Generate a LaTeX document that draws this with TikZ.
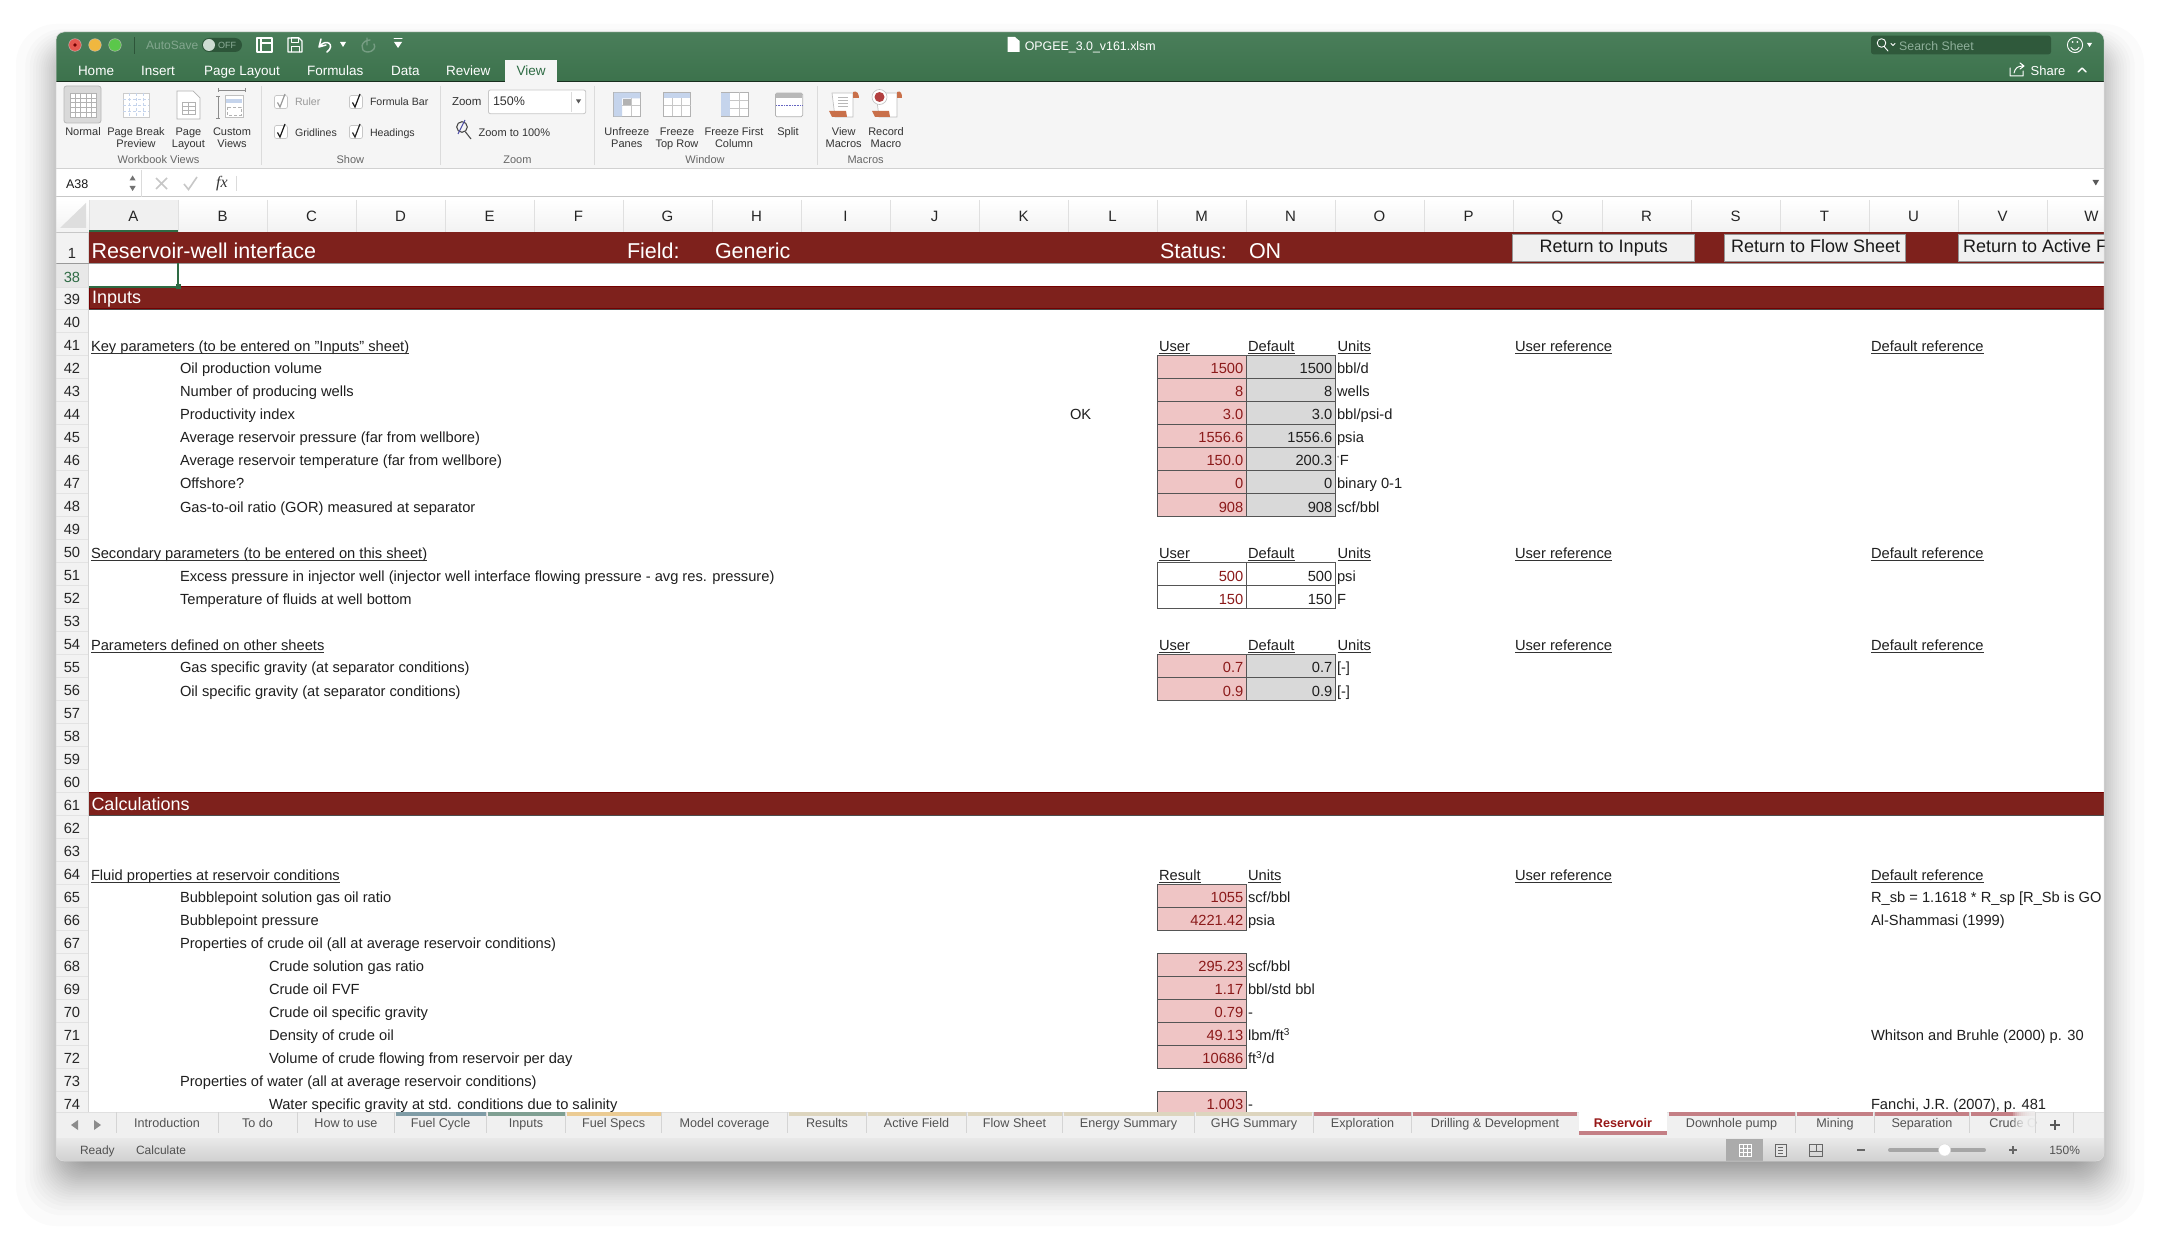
\documentclass[tikz,border=0pt]{standalone}
\usepackage{fontspec}
\setmainfont{Liberation Sans}
\definecolor{maroon}{HTML}{7E211C}
\definecolor{pinkc}{HTML}{EFC5C5}
\definecolor{greyc}{HTML}{D9D9D9}
\definecolor{rednum}{HTML}{8B1A1A}
\definecolor{cellline}{HTML}{555555}
\definecolor{greentop}{HTML}{4A7E5A}
\definecolor{greenbot}{HTML}{3C724C}
\definecolor{ribbon}{HTML}{F5F5F5}
\definecolor{sel}{HTML}{2E6B44}
\definecolor{dimg}{HTML}{8FB09B}
\definecolor{tabblue}{HTML}{7F9CA6}
\definecolor{tabteal}{HTML}{7F9F92}
\definecolor{tabyel}{HTML}{EBCB93}
\definecolor{tabtan}{HTML}{DDD5BE}
\definecolor{tabred}{HTML}{C47F85}
\definecolor{orangeic}{HTML}{C9704A}
\definecolor{blueic}{HTML}{C5D4EC}
\newcommand{\fs}[1]{\fontsize{#1}{#1}\selectfont}
\tikzset{
 txt/.style={inner sep=0pt,outer sep=0pt,text=black!88,font=\fs{14.68}},
 lab/.style={inner sep=0pt,outer sep=0pt,text=black!80,font=\fs{11},anchor=center,text height=8pt,text depth=0pt},
 grp/.style={inner sep=0pt,outer sep=0pt,text=black!60,font=\fs{11},anchor=center,text height=8pt,text depth=0pt},
 tabtxt/.style={inner sep=0pt,outer sep=0pt,text=black!68,font=\fs{12.6},anchor=center,text height=9pt,text depth=0pt},
 menu/.style={inner sep=0pt,outer sep=0pt,text=white,font=\fs{13.5},anchor=west,text height=9.7pt,text depth=0pt},
 hd/.style={inner sep=0pt,outer sep=0pt,text=black!85,font=\fs{14.7},anchor=base},
 rown/.style={inner sep=0pt,outer sep=0pt,text=black!85,font=\fs{14.7},anchor=base},
 banner/.style={inner sep=0pt,outer sep=0pt,text=white,font=\fs{21.5},anchor=base west},
 btn/.style={fill=black!6,draw=black!42,line width=.9pt},
 btntxt/.style={inner sep=0pt,outer sep=0pt,text=black!90,font=\fs{18},anchor=base west},
 sepl/.style={draw=black!14,line width=.9pt},
 chk/.style={draw=black!22,fill=white,rounded corners=2pt,line width=.7pt},
 icon/.style={draw=black!30,fill=white,line width=.7pt},
 wic/.style={draw=white,line width=1.2pt,line cap=round,line join=round},
}
\newcommand{\rowb}[1]{327.3+23*(#1-40)+or(or(#1==48,#1==56),or(#1==51,#1==52))}
\newcommand{\Lt}[3]{\pgfmathsetmacro\yy{\rowb{#2}}\node[txt,anchor=base west] at (#1,\yy) {#3};}
\newcommand{\Ul}[3]{\pgfmathsetmacro\yy{328.3+23*(#2-40)}\node[txt,anchor=base west] (ul) at (#1,\yy) {#3};\draw[black!80,line width=.8pt] ([yshift=-2pt]ul.base west) -- ([yshift=-2pt]ul.base east);}
\newcommand{\Bx}[5]{\pgfmathsetmacro\yt{309+23*(#2-40)}\pgfmathsetmacro\yb{\yt+23}\pgfmathsetmacro\yy{\rowb{#2}}\pgfmathsetmacro\xr{#1+89}\pgfmathsetmacro\xt{#1+86.3}
 \draw[fill=#3,draw=cellline,line width=.9pt] (#1,\yt) rectangle (\xr,\yb);
 \node[txt,anchor=base east,text=#5] at (\xt,\yy) {#4};}
\begin{document}
\begin{tikzpicture}[x=1pt,y=-1pt]
\useasboundingbox (0,0) rectangle (2160,1241);
\fill[white] (0,0) rectangle (2160,1241);
% soft shadow
\foreach \i in {0,...,39}{
 \pgfmathsetmacro\t{(\i/39)^0.55}
 \pgfmathsetmacro\xa{16+70*\t}
 \pgfmathsetmacro\xb{2144-70*\t}
 \pgfmathsetmacro\ya{24+40*\t}
 \pgfmathsetmacro\yb{1226-80*\t}
 \pgfmathsetmacro\rr{40-25*\t}
 \fill[black,fill opacity=.0155,rounded corners=\rr pt] (\xa,\ya) rectangle (\xb,\yb);
}
\begin{scope}
\clip[rounded corners=8pt] (56,32) rectangle (2104,1161);
\fill[white] (56,32) rectangle (2104,1161);
% title bar
\shade[top color=greentop,bottom color=greenbot] (56,32) rectangle (2104,82);
\fill[black!60!greenbot] (56,80.8) rectangle (2104,82);
\fill[ribbon] (505,60) rectangle (557,82);
\foreach \x/\c in {75/E5574F,95/F0B73F,115/5BC74A}{\definecolor{tc}{HTML}{\c}\fill[tc,draw=black!25,line width=.4pt] (\x,45) circle (6.3pt);}
\fill[black!55!red] (75,45) circle (1.8pt);
\draw[greenbot!75!black,line width=.7pt] (134,37) -- (134,54);
\node[inner sep=0pt,anchor=west,text=dimg!85!greenbot,font=\fs{12}] at (146,45.5) {AutoSave};
\fill[black!25!greenbot,rounded corners=7pt] (202,38) rectangle (242,52);
\fill[white!55!dimg] (209,45) circle (6pt);
\node[inner sep=0pt,anchor=west,text=dimg,font=\fs{9}] at (218,45.5) {OFF};
\draw[wic] (257,38) rectangle (272,52) (261,38) -- (261,52) (261,43) -- (272,43);
\draw[wic] (288,38) -- (299,38) -- (302,41) -- (302,52) -- (288,52) -- cycle;
\draw[wic,line width=1pt] (291,38) rectangle (298,43) (291,52) -- (291,47) -- (299,47) -- (299,52);
\draw[wic,line width=1.5pt] (321,39) -- (319,47) -- (326,45) (320,46) .. controls (326,38) and (336,45) .. (327,52);
\fill[white] (340,42) -- (346,42) -- (343,47) -- cycle;
\draw[wic,draw=dimg!70!greenbot,line width=1.4pt] (370,40) .. controls (361,40) and (359,51) .. (367,52) .. controls (374,52) and (376,47) .. (374,44) (367,38) -- (367,45);
\draw[wic,line width=1pt] (394,39) -- (402,39);
\fill[white] (394,42) -- (402,42) -- (398,48) -- cycle;
% title
\fill[white] (1007.6,37) -- (1015,37) -- (1019.6,41) -- (1019.6,52) -- (1007.6,52) -- cycle;
\node[inner sep=0pt,anchor=base west,text=white,font=\fs{12.4}] at (1024.6,50.5) {OPGEE\_3.0\_v161.xlsm};
% search
\fill[black!22!greenbot,rounded corners=2.5pt] (1871,35.7) rectangle (2051,54.3);
\draw[wic,line width=.9pt] (1881.5,43) circle (4.3pt) (1884.5,47) -- (1888,51);
\draw[wic,line width=.8pt] (1891,43.5) -- (1893,45.5) -- (1895,43.5);
\node[inner sep=0pt,anchor=base west,text=dimg,font=\fs{12.3}] at (1899,50.5) {Search Sheet};
\draw[wic,line width=.9pt] (2075,45) circle (7.6pt) (2071,47.5) .. controls (2073,51) and (2077,51) .. (2079,47.5);
\fill[white] (2072.6,42) circle (1pt) (2077.4,42) circle (1pt) (2087,43) -- (2092,43) -- (2089.5,47) -- cycle;
% menu
\foreach \x/\t in {78/Home,141/Insert,204/Page Layout,307/Formulas,391/Data,446/Review}{\node[menu] at (\x,70.5) {\t};}
\node[menu,text=sel] at (516.5,70.5) {View};
\draw[wic,line width=1pt] (2010,68) -- (2010,76) -- (2023,76) -- (2023,71) (2014,73) .. controls (2015,68) and (2018,66) .. (2023,66) (2020,63) -- (2024,66) -- (2020,69);
\node[menu,font=\fs{13}] at (2030.6,70.5) {Share};
\draw[wic,line width=1.4pt] (2078,72) -- (2082,68) -- (2086,72);
% ribbon
\fill[ribbon] (56,82) rectangle (2104,169);
\draw[black!18,line width=1pt] (56,169) -- (2104,169);
\foreach \x in {261.6,440.6,594.6,817}{\draw[sepl] (\x,86) -- (\x,165);}
\draw[fill=black!15,draw=black!28,rounded corners=2.5pt,line width=.8pt] (64,86) rectangle (101,123);
\draw[icon] (70,93) rectangle (96.5,117);
\foreach \x in {75.3,80.6,85.9,91.2}{\draw[black!30,line width=.4pt] (\x,93) -- (\x,117);}
\foreach \y in {97.8,102.6,107.4,112.2}{\draw[black!30,line width=.4pt] (70,\y) -- (96.5,\y);}
\node[lab] at (83,132) {Normal};
% page break
\draw[icon,draw=black!20] (123,93) rectangle (149,117);
\draw[blueic,densely dashed,line width=.5pt] (136,93) -- (136,117) (123,105) -- (149,105) (129,93) -- (129,117) (143,93) -- (143,117) (123,99) -- (149,99) (123,111) -- (149,111);
\node[lab] at (136,132) {Page Break}; \node[lab] at (136,144) {Preview};
% page layout
\draw[icon] (177,91) -- (193,91) -- (200,98) -- (200,119) -- (177,119) -- cycle;
\draw[black!30,line width=.4pt] (182,102) rectangle (195,114) (182,106) -- (195,106) (182,110) -- (195,110) (188.5,102) -- (188.5,114);
\node[lab] at (188.4,132) {Page}; \node[lab] at (188.4,144) {Layout};
% custom
\draw[black!45,line width=.6pt] (218,90) -- (245,90) (218,88) -- (218,92) (245,88) -- (245,92) (218,96) -- (218,118) (216,96) -- (220,96) (216,118) -- (220,118);
\draw[icon,draw=black!25] (225,95) rectangle (243,117);
\fill[blueic] (226,99) rectangle (242,103);
\draw[black!30,line width=.4pt,densely dashed] (227,107) rectangle (241,115);
\node[lab] at (232,132) {Custom}; \node[lab] at (232,144) {Views};
\node[grp] at (158.5,159.3) {Workbook Views};
% show
\foreach \x/\y/\c in {281/102/40,356/102/90,281/132/90,356/132/85}{
 \pgfmathsetmacro\xa{\x-6.5}\pgfmathsetmacro\xb{\x+6.5}\pgfmathsetmacro\ya{\y-6.5}\pgfmathsetmacro\yb{\y+6.5}
 \draw[chk] (\xa,\ya) rectangle (\xb,\yb);
 \pgfmathsetmacro\pa{\x-3.5}\pgfmathsetmacro\pb{\y+0.5}\pgfmathsetmacro\qa{\x-1}\pgfmathsetmacro\qb{\y+5}\pgfmathsetmacro\ra{\x+4}\pgfmathsetmacro\rb{\y-8}
 \draw[black!\c,line width=1.2pt] (\pa,\pb) -- (\qa,\qb) -- (\ra,\rb);
}
\node[lab,anchor=west,text=black!40,font=\fs{10.6}] at (295,102) {Ruler};
\node[lab,anchor=west,font=\fs{10.6}] at (370,102) {Formula Bar};
\node[lab,anchor=west,font=\fs{10.6}] at (295,132.5) {Gridlines};
\node[lab,anchor=west,font=\fs{10.6}] at (370,132.5) {Headings};
\node[grp] at (350.4,159.3) {Show};
% zoom
\node[lab,anchor=west,font=\fs{11.5}] at (452,102) {Zoom};
\draw[fill=white,draw=black!22,rounded corners=2pt,line width=.8pt] (488.4,90) rectangle (585.7,113.7);
\draw[black!14,line width=.7pt] (571.4,92) -- (571.4,112);
\node[lab,anchor=west,font=\fs{12.5}] at (493,102) {150\%};
\fill[black!65] (576,99.5) -- (581,99.5) -- (578.5,103.5) -- cycle;
\draw[black!70,line width=1.1pt] (462,127) circle (5.3pt) (465.5,132) -- (471,139);
\draw[blue!50!black!70,line width=1pt] (458,134) -- (465,120);
\node[lab,anchor=west] at (478.6,132.5) {Zoom to 100\%};
\node[grp] at (517.4,159.3) {Zoom};
% window icons
\draw[icon] (613.4,92.3) rectangle (640.6,116.7);
\fill[blueic] (613.8,92.7) rectangle (640.2,98.5) (613.8,98.5) rectangle (622,116.3);
\fill[black!30] (622.5,99) rectangle (631,105);
\draw[black!22,line width=.4pt] (622,105.5) -- (640,105.5) (631,98.5) -- (631,116.5);
\node[lab] at (626.8,132) {Unfreeze}; \node[lab] at (626.8,144) {Panes};
\draw[icon] (663.4,92.3) rectangle (690.6,116.7);
\fill[blueic] (663.8,92.7) rectangle (690.2,98.5);
\draw[black!22,line width=.4pt] (663.5,105) -- (690.5,105) (672.5,98.5) -- (672.5,116.5) (681.5,98.5) -- (681.5,116.5);
\node[lab] at (677,132) {Freeze}; \node[lab] at (677,144) {Top Row};
\draw[icon] (721,92.3) rectangle (748.2,116.7);
\fill[blueic] (721.4,92.7) rectangle (729.5,116.3);
\draw[black!22,line width=.4pt] (729.5,100.5) -- (748,100.5) (729.5,108.5) -- (748,108.5) (739,92.5) -- (739,116.5);
\node[lab] at (734,132) {Freeze First}; \node[lab] at (734,144) {Column};
\draw[icon,rounded corners=1.5pt] (775.4,93) rectangle (802.7,116.7);
\fill[black!28] (775.8,93.4) rectangle (802.3,98);
\draw[blue!60!black!60,densely dotted,line width=.6pt] (776,105.5) -- (802,105.5);
\node[lab] at (788,132) {Split};
\node[grp] at (705,159.3) {Window};
% macros
\draw[icon,draw=black!25] (832,93) -- (853,93) -- (853,117) -- (835,117) -- cycle;
\fill[orangeic] (829,111) -- (846,111) -- (847,117) -- (832,117) -- cycle (853,92) .. controls (857,90) and (859,94) .. (859,98) -- (853,98) -- cycle;
\foreach \y in {97,100,103,106}{\draw[black!28,line width=.5pt] (838,\y) -- (848,\y);}
\node[lab] at (843.7,132) {View}; \node[lab] at (843.7,144) {Macros};
\draw[icon,draw=black!25] (876,93) -- (897,93) -- (897,117) -- (879,117) -- cycle;
\fill[orangeic] (872,111) -- (889,111) -- (890,117) -- (875,117) -- cycle (897,92) .. controls (901,90) and (902,94) .. (902,98) -- (897,98) -- cycle;
\draw[fill=white,draw=black!25,line width=.6pt] (879.5,97) circle (7.5pt);
\fill[red!60!black!75] (879.5,97) circle (5pt);
\node[lab] at (886,132) {Record}; \node[lab] at (886,144) {Macro};
\node[grp] at (865.6,159.3) {Macros};
% formula bar
\fill[white] (56,170) rectangle (2104,197);
\draw[black!22,line width=.9pt] (56,196.8) -- (2104,196.8) (56,199) -- (2104,199);
\draw[black!14,line width=.8pt] (141.5,170) -- (141.5,197) (236.6,176) -- (236.6,191);
\node[lab,anchor=west,font=\fs{12.5},text=black!90,text height=9pt] at (66,184) {A38};
\fill[black!55] (129.5,180.5) -- (135.7,180.5) -- (132.6,175.5) -- cycle (129.5,186) -- (135.7,186) -- (132.6,191) -- cycle;
\draw[black!22,line width=1.6pt] (156,178) -- (167,189) (167,178) -- (156,189);
\draw[black!22,line width=1.6pt] (184,184) -- (188.5,189.5) -- (197,177);
\node[inner sep=0pt,text=black!80,font=\fontspec{Liberation Serif}\itshape\fs{16}] at (222,184) {fx};
\fill[black!65] (2092.5,180) -- (2099,180) -- (2095.8,185.5) -- cycle;
% column header
\shade[top color=white,bottom color=black!5] (56,199.5) rectangle (2104,232);
\fill[black!6] (89,200) rectangle (178,230);
\fill[black!13] (60,228) -- (86,203) -- (86,228) -- cycle;
\foreach \x in {89,178,...,2100}{\draw[black!12,line width=.7pt] (\x,200) -- (\x,232);}
\foreach[count=\i from 0] \c in {A,B,C,D,E,F,G,H,I,J,K,L,M,N,O,P,Q,R,S,T,U,V,W}{
 \pgfmathsetmacro\xx{133.5+89*\i}\node[hd,font=\fs{15}] at (\xx,222) {\c};}
\fill[sel] (89,230) rectangle (178,232);
% row header
\fill[black!5] (56,232) rectangle (89,1112);
\fill[black!9] (56,264) rectangle (89,287);
\draw[black!22,line width=.9pt] (56,232) -- (89,232);
\foreach \n in {40,...,74}{\pgfmathsetmacro\yy{309+23*(\n-40)}\draw[black!11,line width=.6pt] (56,\yy) -- (89,\yy);}
\draw[black!11,line width=.6pt] (56,287) -- (89,287);
\draw[black!16,line width=.8pt] (88.7,232) -- (88.7,1112);
\node[rown] at (72,258.5) {1};
\node[rown,text=sel] at (72,283) {38};
\node[rown] at (72,305) {39};
\foreach \n in {40,...,74}{\pgfmathsetmacro\yy{327.3+23*(\n-40)}\node[rown] at (72,\yy) {\n};}
% banners
\fill[maroon] (89,232) rectangle (2104,263);
\draw[black!40,line width=1.2pt] (56,263.6) -- (2104,263.6);
\draw[fill=maroon,draw=red!45!black,line width=.8pt] (89,286.6) rectangle (2110,308);
\draw[black!70,line width=.7pt] (89,309) -- (2104,309);
\fill[maroon] (89,792.6) rectangle (2104,815);
\draw[red!45!black,line width=.8pt] (89,792.6) -- (2104,792.6);
\draw[black!70,line width=.7pt] (89,815.6) -- (2104,815.6);
\node[banner] at (91.5,259) {Reservoir-well interface};
\node[banner] at (627,259) {Field:};
\node[banner] at (715,259) {Generic};
\node[banner] at (1160,259) {Status:};
\node[banner] at (1249,259) {ON};
\node[banner,font=\fs{18}] at (92,304) {Inputs};
\node[banner,font=\fs{18}] at (91.5,810) {Calculations};
% buttons
\draw[btn] (1512.5,234) rectangle (1694.6,261);
\node[btntxt] at (1539.7,253) {Return to Inputs};
\draw[btn] (1724.5,234) rectangle (1905.6,261);
\node[btntxt] at (1731,253) {Return to Flow Sheet};
\draw[btn] (1958.6,234) rectangle (2120,261);
\node[btntxt] at (1963,253) {Return to Active F};
% selection
\draw[sel,line width=1.6pt] (89,287) -- (178,287) -- (178,263.5);
\fill[sel] (175.5,284.5) rectangle (180.5,289.5);
% inputs text
\Ul{91}{41}{Key parameters (to be entered on "Inputs" sheet)}
\Ul{1159}{41}{User}\Ul{1248}{41}{Default}\Ul{1337.5}{41}{Units}\Ul{1515}{41}{User reference}\Ul{1871}{41}{Default reference}
\Lt{180}{42}{Oil production volume}
\Lt{180}{43}{Number of producing wells}
\Lt{180}{44}{Productivity index}
\Lt{1070}{44}{OK}
\Lt{180}{45}{Average reservoir pressure (far from wellbore)}
\Lt{180}{46}{Average reservoir temperature (far from wellbore)}
\Lt{180}{47}{Offshore?}
\Lt{180}{48}{Gas-to-oil ratio (GOR) measured at separator}
\foreach \r/\u/\d/\n in {42/1500/1500/bbl\slash d,43/8/8/wells,44/3.0/3.0/bbl\slash psi-d,45/1556.6/1556.6/psia,46/150.0/200.3/{\textsuperscript{\fs{6}°}F},47/0/0/binary 0-1,48/908/908/scf\slash bbl}{
 \Bx{1157}{\r}{pinkc}{\u}{rednum}\Bx{1246}{\r}{greyc}{\d}{black!88}\Lt{1337}{\r}{\n}}
\Ul{91}{50}{Secondary parameters (to be entered on this sheet)}
\Ul{1159}{50}{User}\Ul{1248}{50}{Default}\Ul{1337.5}{50}{Units}\Ul{1515}{50}{User reference}\Ul{1871}{50}{Default reference}
\Lt{180}{51}{Excess pressure in injector well (injector well interface flowing pressure - avg res. pressure)}
\Lt{180}{52}{Temperature of fluids at well bottom}
\foreach \r/\u/\n in {51/500/psi,52/150/F}{\Bx{1157}{\r}{white}{\u}{rednum}\Bx{1246}{\r}{white}{\u}{black!88}\Lt{1337}{\r}{\n}}
\Ul{91}{54}{Parameters defined on other sheets}
\Ul{1159}{54}{User}\Ul{1248}{54}{Default}\Ul{1337.5}{54}{Units}\Ul{1515}{54}{User reference}\Ul{1871}{54}{Default reference}
\Lt{180}{55}{Gas specific gravity (at separator conditions)}
\Lt{180}{56}{Oil specific gravity (at separator conditions)}
\foreach \r/\u in {55/0.7,56/0.9}{\Bx{1157}{\r}{pinkc}{\u}{rednum}\Bx{1246}{\r}{greyc}{\u}{black!88}\Lt{1337}{\r}{[-]}}
% calculations
\Ul{91}{64}{Fluid properties at reservoir conditions}
\Ul{1159}{64}{Result}\Ul{1248}{64}{Units}\Ul{1515}{64}{User reference}\Ul{1871}{64}{Default reference}
\Lt{180}{65}{Bubblepoint solution gas oil ratio}
\Lt{180}{66}{Bubblepoint pressure}
\Lt{180}{67}{Properties of crude oil (all at average reservoir conditions)}
\Lt{269}{68}{Crude solution gas ratio}
\Lt{269}{69}{Crude oil FVF}
\Lt{269}{70}{Crude oil specific gravity}
\Lt{269}{71}{Density of crude oil}
\Lt{269}{72}{Volume of crude flowing from reservoir per day}
\Lt{180}{73}{Properties of water (all at average reservoir conditions)}
\Lt{269}{74}{Water specific gravity at std. conditions due to salinity}
\foreach \r/\u/\n in {65/1055/scf\slash bbl,66/4221.42/psia,68/295.23/scf\slash bbl,69/1.17/bbl\slash std bbl,70/0.79/-,71/49.13/{lbm\slash ft\textsuperscript{\fs{10}3}},72/10686/{ft\textsuperscript{\fs{10}3}\slash d},74/1.003/-}{
 \Bx{1157}{\r}{pinkc}{\u}{rednum}\Lt{1248}{\r}{\n}}
\Lt{1871}{65}{R\_sb = 1.1618 * R\_sp [R\_Sb is GO}
\Lt{1871}{66}{Al-Shammasi (1999)}
\Lt{1871}{71}{Whitson and Bruhle (2000) p. 30}
\Lt{1871}{74}{Fanchi, J.R. (2007), p. 481}
% tab bar
\fill[black!6] (56,1112) rectangle (2104,1138);
\draw[black!12,line width=.7pt] (56,1112) -- (2104,1112);
\draw[black!30,line width=.9pt] (56,1138) -- (2104,1138);
\fill[black!45] (78,1120) -- (78,1130) -- (71,1125) -- cycle (94,1120) -- (94,1130) -- (101,1125) -- cycle;
\foreach \x in {116.5,218,297,394.6,486.6,565.6,661.6,787.5,866.5,966.5,1062.5,1194.6,1313.4,1411.6,1795.6,1874.4,1969.5,2035.6,2073.6}{\draw[black!17,line width=.7pt] (\x,1112) -- (\x,1133);}
\foreach \a/\b/\c in {395.6/485.6/tabblue,487.6/564.6/tabteal,566.6/660.6/tabyel,788.5/865.5/tabtan,867.5/965.5/tabtan,967.5/1061.5/tabtan,1063.5/1193.6/tabtan,1195.6/1312.4/tabtan,1314.4/1410.6/tabred,1412.6/1577/tabred,1669/1794.6/tabred,1796.6/1873.4/tabred,1875.4/1968.5/tabred,1970.5/2035/tabred}{\fill[\c] (\a,1112) rectangle (\b,1116);}
\fill[white] (1579,1112) rectangle (1667.4,1131);
\fill[tabred] (1579,1131) rectangle (1667.4,1135);
\foreach \x/\t in {167/Introduction,257.5/To do,346/How to use,440.6/Fuel Cycle,526/Inputs,613.6/Fuel Specs,724.5/Model coverage,827/Results,916.5/Active Field,1014.5/Flow Sheet,1128.5/Energy Summary,1254/GHG Summary,1362.5/Exploration,1495/Drilling \& Development,1731.5/Downhole pump,1835/Mining,1922/Separation}{\node[tabtxt] at (\x,1123) {\t};}
\node[tabtxt,text=rednum!90!red,font=\fs{12.6}\bfseries] at (1623,1123) {Reservoir};
\node[tabtxt,anchor=west] at (1989.4,1123) {Crude O};
% fade out of the last tab
\foreach \k in {1,...,11}{\pgfmathsetmacro\xa{2035-2*\k}\fill[black!6,fill opacity=.25] (\xa,1111) rectangle (2035,1133);}
\draw[black!17,line width=.7pt] (2035.6,1112) -- (2035.6,1133);
\draw[black!65,line width=1.2pt] (2050,1125) -- (2060,1125) (2055,1120) -- (2055,1130);
% status bar
\shade[top color=black!9,bottom color=black!18] (56,1138.6) rectangle (2104,1161);
\node[tabtxt,anchor=west,font=\fs{12}] at (80,1150) {Ready};
\node[tabtxt,anchor=west,font=\fs{12}] at (136,1150) {Calculate};
\fill[black!33] (1726,1139) rectangle (1763,1161);
\draw[white,line width=.8pt] (1739,1144) rectangle (1751,1156) (1743,1144) -- (1743,1156) (1747,1144) -- (1747,1156) (1739,1148) -- (1751,1148) (1739,1152) -- (1751,1152);
\draw[black!60,fill=black!10,line width=.7pt] (1775,1144) rectangle (1786,1156);
\draw[black!60,line width=.6pt] (1778,1147) -- (1783,1147) (1778,1150) -- (1783,1150) (1778,1153) -- (1783,1153);
\draw[black!60,line width=.7pt] (1809.5,1144) rectangle (1822.5,1156) (1809.5,1151) -- (1822.5,1151) (1816,1144) -- (1816,1151);
\draw[black!60,line width=1.6pt] (1857,1150) -- (1865,1150) (2009,1150) -- (2017,1150) (2013,1146) -- (2013,1154);
\draw[black!35,line width=4pt,line cap=round] (1890,1150) -- (1984,1150);
\fill[white,draw=black!15,line width=.4pt] (1944.6,1150) circle (6pt);
\node[tabtxt,font=\fs{12}] at (2064.6,1150) {150\%};
\end{scope}
\draw[black!15,line width=.5pt,rounded corners=8pt] (56,32) rectangle (2104,1161);
\end{tikzpicture}
\end{document}
